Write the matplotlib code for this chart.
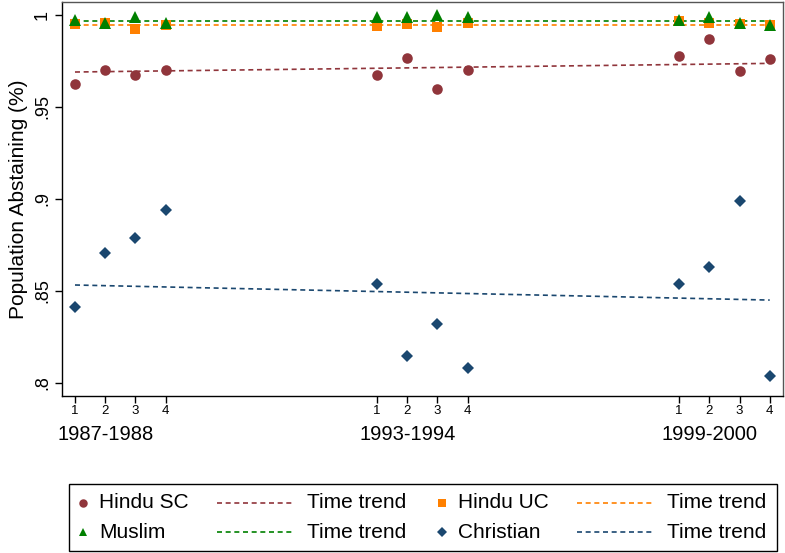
import numpy as np
import matplotlib.pyplot as plt
from matplotlib.lines import Line2D
from matplotlib.patches import Rectangle
import matplotlib.transforms as mtransforms

plt.rcParams['font.family'] = ['Liberation Sans', 'DejaVu Sans']

# survey rounds and the quarter within each round
rounds = ['1987-1988', '1993-1994', '1999-2000']
quarters = ['1', '2', '3', '4']
xpos = [1, 2, 3, 4, 11, 12, 13, 14, 21, 22, 23, 24]
round_mid = [2, 12, 22]

hindu_sc = [0.9625, 0.9701, 0.9675, 0.9699, 0.9672, 0.9768, 0.9597, 0.9699,
            0.9777, 0.9869, 0.9695, 0.9762]
hindu_uc = [0.9951, 0.9958, 0.9925, 0.9944, 0.9942, 0.9949, 0.9936, 0.9958,
            0.9967, 0.9955, 0.9951, 0.9947]
muslim = [0.9973, 0.9958, 0.9987, 0.9955, 0.9987, 0.9987, 0.9999, 0.9991,
          0.9973, 0.9987, 0.9958, 0.9946]
christian = [0.8413, 0.8707, 0.8785, 0.8937, 0.8538, 0.8147, 0.8320, 0.8079,
             0.8538, 0.8627, 0.8988, 0.8038]

# fitted time trends, start and end value
trend_x = [1, 24]
trend_sc = [0.9690, 0.9737]
trend_uc = [0.9948, 0.9948]
trend_mu = [0.9969, 0.9969]
trend_ch = [0.8531, 0.8449]

c_sc = '#90353b'
c_uc = '#ff8000'
c_mu = '#008000'
c_ch = '#1a476f'
dash = (0, (3.0, 2.2))
lw = 1.2

fig = plt.figure(figsize=(7.85, 5.53), dpi=100)
ax = fig.add_axes([62/785, 1-396/553, (783-62)/785, (396-2)/553])

ax.plot(xpos, hindu_sc, 'o', color=c_sc, ms=7.6, mew=0, zorder=3)
ax.plot(trend_x, trend_sc, color=c_sc, ls=dash, lw=lw, zorder=2)
ax.plot(xpos, hindu_uc, 's', color=c_uc, ms=7.4, mew=0, zorder=3)
ax.plot(trend_x, trend_uc, color=c_uc, ls=dash, lw=lw, zorder=2)
ax.plot(xpos, muslim, '^', color=c_mu, ms=8, mew=0, zorder=3)
ax.plot(trend_x, trend_mu, color=c_mu, ls=dash, lw=lw, zorder=2)
ax.plot(xpos, christian, 'D', color=c_ch, ms=6.6, mew=0, zorder=3)
ax.plot(trend_x, trend_ch, color=c_ch, ls=dash, lw=lw, zorder=2)

ax.set_xlim(0.57, 24.44)
ax.set_ylim(0.7927, 1.0071)
ax.set_yticks([0.8, 0.85, 0.9, 0.95, 1.0])
ax.set_yticklabels(['.8', '.85', '.9', '.95', '1'], rotation=90, va='center', fontsize=13)
ax.set_xticks(xpos)
ax.set_xticklabels(quarters * 3, fontsize=9.5)
ax.tick_params(axis='both', direction='out', length=5, width=1, color='black')
ax.tick_params(axis='x', pad=1.5)
ax.tick_params(axis='y', pad=3)
for s in ax.spines.values():
    s.set_linewidth(1.0)
ax.spines['top'].set_color('#555555')
ax.spines['right'].set_color('#555555')
ax.set_ylabel('Population Abstaining (%)', fontsize=15, labelpad=4)

# round labels under the quarter ticks
trans = mtransforms.blended_transform_factory(ax.transData, fig.transFigure)
for xm, r in zip(round_mid, rounds):
    ax.text(xm, 1-434/553, r, transform=trans, ha='center', va='center', fontsize=14.5)

# legend drawn in figure pixel coordinates
lg = fig.add_axes([0, 0, 1, 1], facecolor='none')
lg.set_xlim(0, 785)
lg.set_ylim(553, 0)
lg.axis('off')
lg.add_patch(Rectangle((69, 484), 708, 67, fill=False, lw=1.0, ec='black'))
rows = [503, 532]
entries = [
    [('o', c_sc, 'Hindu SC', 7.6), ('-', c_sc, 'Time trend', 0),
     ('s', c_uc, 'Hindu UC', 7.4), ('-', c_uc, 'Time trend', 0)],
    [('^', c_mu, 'Muslim', 8), ('-', c_mu, 'Time trend', 0),
     ('D', c_ch, 'Christian', 6.6), ('-', c_ch, 'Time trend', 0)],
]
for y, row in zip(rows, entries):
    for k, (m, c, label, ms) in enumerate(row):
        if m == '-':
            x0 = 217 if k == 1 else 577
            lg.add_line(Line2D([x0, x0 + 76], [y, y], color=c, ls=dash, lw=lw))
            lg.text(x0 + 90, y, label, ha='left', va='center', fontsize=15)
        else:
            xm = 83 if k == 0 else 442
            lg.plot([xm], [y], m, color=c, ms=ms * 0.8, mew=0)
            lg.text(xm + 16, y, label, ha='left', va='center', fontsize=15)

fig.savefig('out.png', dpi=100)
